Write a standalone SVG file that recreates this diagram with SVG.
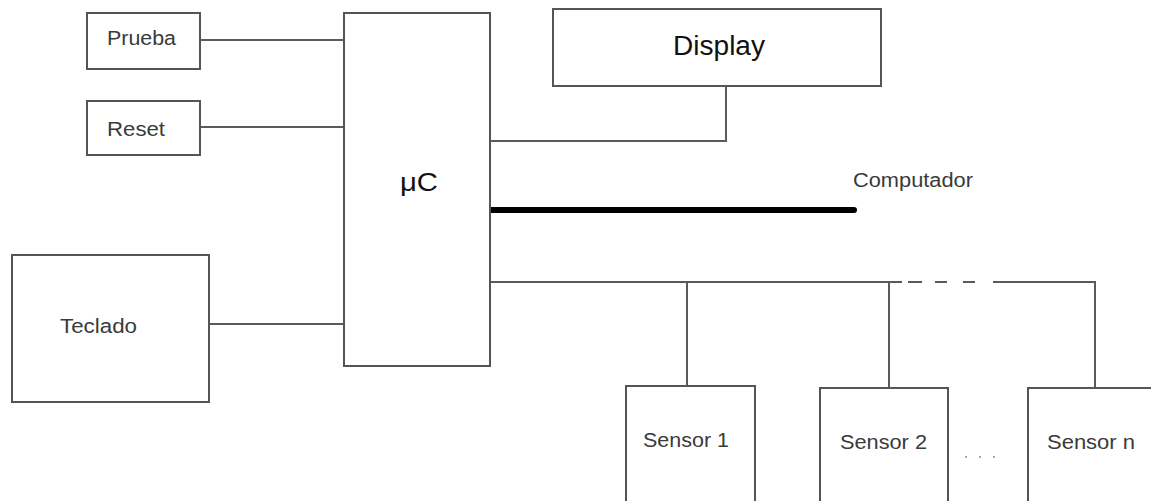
<svg xmlns="http://www.w3.org/2000/svg" width="1151" height="501" viewBox="0 0 1151 501">
<style>
.box{fill:#fff;stroke:#555;stroke-width:2}
.ln{fill:none;stroke:#5a5a5a;stroke-width:2}
.t{font-family:"Liberation Sans",Arial,sans-serif;font-size:20px;fill:#3a3a3a}
.tb{font-family:"Liberation Sans",Arial,sans-serif;fill:#111}
</style>
<rect width="1151" height="501" fill="#fff"/>
<g id="connectors">
<path class="ln" d="M200 40H345"/>
<path class="ln" d="M200 127H345"/>
<path class="ln" d="M209 324H345"/>
<path class="ln" d="M490 141H726V86"/>
<path d="M488 210H854" stroke="#000" stroke-width="6" stroke-linecap="round" fill="none"/>
<path class="ln" d="M490 282H902"/>
<path class="ln" d="M908 282H922M935 282H947M963 282H975"/>
<path class="ln" d="M993 282H1095V388"/>
<path class="ln" d="M687 282V386"/>
<path class="ln" d="M889 282V388"/>
</g>
<g id="prueba"><rect class="box" x="87" y="13" width="113" height="56"/><text class="t" x="107" y="45" textLength="69" lengthAdjust="spacingAndGlyphs">Prueba</text></g>
<g id="reset"><rect class="box" x="87" y="101" width="113" height="54"/><text class="t" x="107" y="136" textLength="58" lengthAdjust="spacingAndGlyphs">Reset</text></g>
<g id="teclado"><rect class="box" x="12" y="255" width="197" height="147"/><text class="t" x="60" y="333" textLength="77" lengthAdjust="spacingAndGlyphs">Teclado</text></g>
<g id="uc"><rect class="box" x="344" y="13" width="146" height="353"/><text class="tb" x="400" y="191" font-size="26" textLength="38" lengthAdjust="spacingAndGlyphs">μC</text></g>
<g id="display"><rect class="box" x="553" y="9" width="328" height="77"/><text class="tb" x="673" y="55" font-size="27" textLength="92" lengthAdjust="spacingAndGlyphs">Display</text></g>
<g id="computador"><text class="t" x="853" y="187" textLength="120" lengthAdjust="spacingAndGlyphs">Computador</text></g>
<g id="sensor1"><rect class="box" x="626" y="386" width="129" height="130"/><text class="t" x="643" y="447" textLength="86" lengthAdjust="spacingAndGlyphs">Sensor 1</text></g>
<g id="sensor2"><rect class="box" x="820" y="388" width="128" height="130"/><text class="t" x="840" y="449" textLength="87" lengthAdjust="spacingAndGlyphs">Sensor 2</text></g>
<g id="sensorn"><rect class="box" x="1028" y="388" width="140" height="130"/><text class="t" x="1047" y="449" textLength="88" lengthAdjust="spacingAndGlyphs">Sensor n</text></g>
<g id="dots" fill="#888"><circle cx="966" cy="457" r="1"/><circle cx="980" cy="457" r="1"/><circle cx="994" cy="457" r="1"/></g>
</svg>
